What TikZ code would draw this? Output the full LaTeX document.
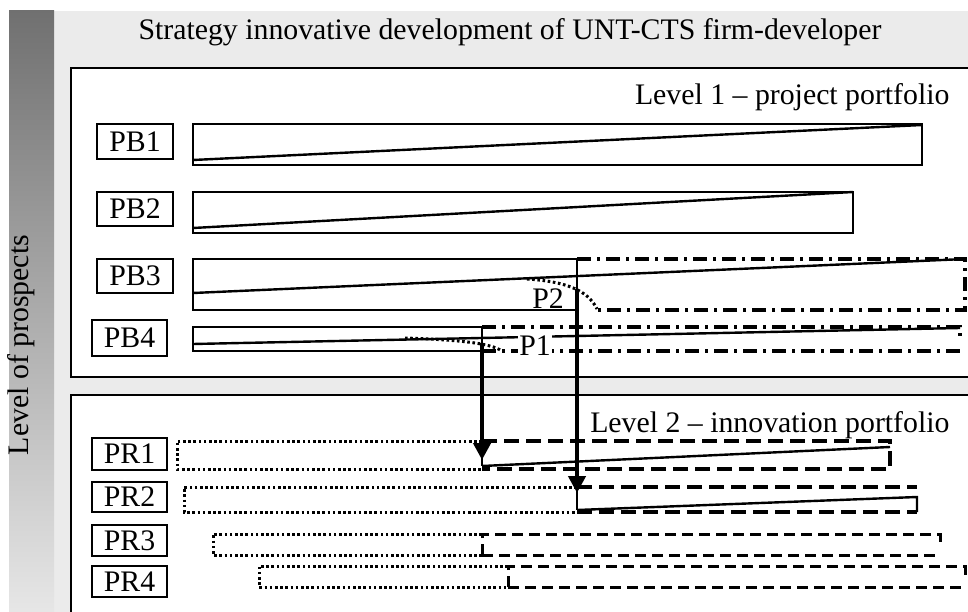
\documentclass[tikz,border=0pt]{standalone}
\usepackage{fontspec}
\setmainfont{Liberation Serif}
\usetikzlibrary{arrows.meta,positioning,calc}
\definecolor{cBack}  {gray}{0.92}
\definecolor{cBarTop}{gray}{0.44}
\definecolor{cBarBot}{gray}{0.91}

\begin{document}
\begin{tikzpicture}[
    x=1pt, y=-1pt,
    font=\fontsize{29.8}{33}\selectfont,
    level/.style={draw, fill=white, line width=2.8pt},
    tag/.style={rectangle, draw, fill=white, line width=2.4pt,
                minimum width=75pt, minimum height=33pt, inner sep=0pt},
    bar/.style={line width=2.6pt},
    slope/.style={line width=2.4pt},
    seam/.style={line width=1.1pt},
    % planned part of a bar: dotted, project part: dashed,
    % prospect part: dash-dot
    plan/.style={line width=3pt, dash pattern=on 2.6pt off 2.6pt},
    innov/.style={line width=3.4pt, dash pattern=on 15pt off 7pt},
    innovs/.style={line width=3pt, dash pattern=on 11pt off 6pt},
    outlook/.style={line width=4.2pt, dash pattern=on 14pt off 6pt on 3pt off 6pt},
    jump/.style={-{Triangle[length=17pt,width=17pt]}, line width=4.2pt},
]
\useasboundingbox (0,0) rectangle (968,612);
\clip (0,0) rectangle (968,612);

% --- Background and the side bar
\fill[cBack] (54,11) rectangle (980,620);
\shade[top color=cBarTop, bottom color=cBarBot] (9,11) rectangle (54,620);
\node[rotate=90, anchor=base] (axis) at (28,345) {Level of prospects};
\node[anchor=base] (title) at (510,40)
    {Strategy innovative development of UNT-CTS firm-developer};

% --- Level 1
\draw[level] (71,68) rectangle (985,377);
\node[anchor=base east] (lvl1) at (953,105) {Level 1 -- project portfolio};

\node[tag, minimum width=76pt, minimum height=35pt] (pb1) at (135,141.5) {PB1};
\node[tag, minimum width=76pt, minimum height=34pt] (pb2) at (135,209) {PB2};
\node[tag, minimum width=76pt, minimum height=34pt] (pb3) at (135,276) {PB3};
\node[tag, minimum height=36pt] (pb4) at (129.5,338) {PB4};

% PB1, PB2
\draw[bar] (193,124) rectangle (922,165);
\draw[slope] (193,160) -- (922,125);
\draw[bar] (193,192) rectangle (853,233);
\draw[slope] (193,228) -- (853,192);

% PB3
\draw[bar] (577,259) -- (193,259) -- (193,310) -- (577,310);
\draw[seam] (577,259) -- (577,310);
\draw[outlook] (577,259) -- (965,259) -- (965,310) -- (597,310);
\draw[slope] (193,293) -- (965,259);
\draw[plan] (527,279) .. controls (575,282) and (590,295) .. (597,309);
\node[anchor=base] (p2) at (548,308) {P2};

% PB4
\draw[bar] (482,327) -- (193,327) -- (193,351) -- (482,351);
\draw[seam] (482,327) -- (482,351);
\draw[outlook] (482,327) -- (960,327) -- (960,340);
\draw[outlook] (482,351) -- (960,351);
\draw[slope] (193,344) -- (960,328);
\draw[plan] (405,338) .. controls (460,340) and (490,343) .. (502,351);
\node[anchor=base, fill=white, inner sep=1pt] (p1) at (535,355) {P1};

% --- Level 2
\draw[level] (71,395) rectangle (985,625);
\node[anchor=base east] (lvl2) at (953,432) {Level 2 -- innovation portfolio};

\node[tag, minimum height=32pt] (pr1) at (129.5,454) {PR1};
\node[tag, minimum height=30pt] (pr2) at (129.5,497) {PR2};
\node[tag, minimum height=31pt] (pr3) at (129.5,540.5) {PR3};
\node[tag, minimum height=31pt] (pr4) at (129.5,581.5) {PR4};

% PR1
\draw[plan] (482,441) -- (177,441) -- (177,469) -- (482,469);
\draw[innov] (482,441) -- (890,441) -- (890,469) -- (482,469);
\draw[slope] (482,466) -- (890,447);
\draw[seam] (482,458) -- (482,466);

% PR2
\draw[plan] (577,487) -- (184,487) -- (184,512) -- (577,512);
\draw[innov] (577,487) -- (917,487);
\draw[innov] (577,512) -- (917,512);
\draw[slope] (577,510) -- (917,497) -- (917,512);
\draw[seam] (577,490) -- (577,510);

% PR3, PR4
\draw[plan] (482,534) -- (213,534) -- (213,555) -- (482,555);
\draw[innovs] (482,555) -- (482,534) -- (940,534) -- (940,548);
\draw[innovs] (482,555) -- (940,555);
\draw[plan] (508,566) -- (259,566) -- (259,587) -- (508,587);
\draw[innovs] (508,587) -- (508,566) -- (965,566) -- (965,580);
\draw[innovs] (508,587) -- (967,587);

% --- Transfers from the project to the innovation portfolio
\coordinate (p1top) at (482,343);
\coordinate (p1end) at (482,460);
\coordinate (p2top) at (577,289);
\coordinate (p2end) at (577,493);
\draw[jump] (p1top) -- (p1end);
\draw[jump] (p2top) -- (p2end);
\end{tikzpicture}
\end{document}
